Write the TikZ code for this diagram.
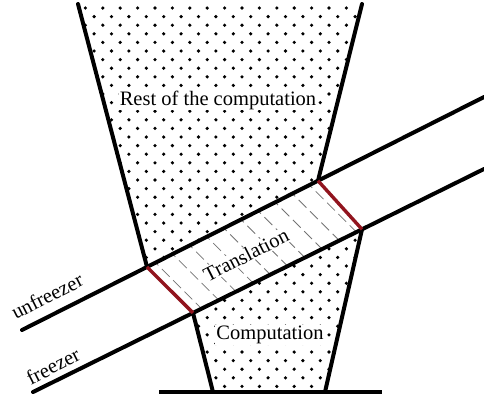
\documentclass[tikz,border=0pt]{standalone}
\usepackage{fontspec}
\setmainfont{Liberation Serif}
\usetikzlibrary{calc}
\definecolor{edgered}{RGB}{145,20,30}
\begin{document}
\begin{tikzpicture}[x=1pt,y=-1pt,
  wall/.style={line width=4pt, line cap=round},
  redge/.style={line width=3.4pt, draw=edgered},
  hatch/.style={line width=0.8pt, draw=black!55, dash pattern=on 11pt off 5pt},
  lbl/.style={font=\fontsize{20.5}{24}\selectfont, inner sep=1pt},
  wlbl/.style={lbl, fill=white}]
\useasboundingbox (0,0) rectangle (484,400);
% lines
\coordinate (UF0) at (22,330);
\coordinate (UF1) at (484,97);
\coordinate (F0) at (33,392);
\coordinate (F1) at (484,169);
\coordinate (UBL) at ($(UF0)!0.2706!(UF1)$);
\coordinate (UBR) at ($(UF0)!0.6407!(UF1)$);
\coordinate (LTL) at ($(F0)!0.3548!(F1)$);
\coordinate (LTR) at ($(F0)!0.7295!(F1)$);
\coordinate (UTL) at (78,4);
\coordinate (UTR) at (362,4);
\coordinate (LBL) at (213,392);
\coordinate (LBR) at (325,392);
\coordinate (B0) at (159,392);
\coordinate (B1) at (382,392);
% dots
\begin{scope}
\clip (UTL) -- (UTR) -- (UBR) -- (UBL) -- cycle
      (LTL) -- (LTR) -- (LBR) -- (LBL) -- cycle;
\foreach \j in {0,...,45} {
  \foreach \i in {0,...,18} {
    \fill ({68+17.4*\i+8.7*mod(\j,2)},{8+8.6*\j}) circle (1.8);
  }
}
\end{scope}
% hatching in translation
\begin{scope}
\clip (UBL) -- (UBR) -- (LTR) -- (LTL) -- cycle;
\foreach \k in {0,...,11} {
  \draw[hatch] ($(UBL)!{(\k-0.5)/10}!(UBR)+(-5,-5)$) -- ++(70,70);
}
\end{scope}
% walls
\draw[wall] (UTL) -- (UBL);
\draw[wall] (UTR) -- (UBR);
\draw[wall] (LTL) -- (LBL);
\draw[wall] (LTR) -- (LBR);
\draw[wall] (UF0) -- (UF1);
\draw[wall] (F0) -- (F1);
\draw[wall, line cap=butt] (B0) -- (B1);
\draw[redge] (UBL) -- (LTL);
\draw[redge] (UBR) -- (LTR);
% labels
\node[wlbl] (rest) at (218,100) {Rest of the computation};
\node[wlbl] (comp) at (270,335) {Computation};
\node[wlbl, rotate=27] (trans) at (246,255) {Translation};
\node[lbl, rotate=27] (unf) at (47,296) {unfreezer};
\node[lbl, rotate=27] (frz) at (53,366) {freezer};
\end{tikzpicture}
\end{document}
